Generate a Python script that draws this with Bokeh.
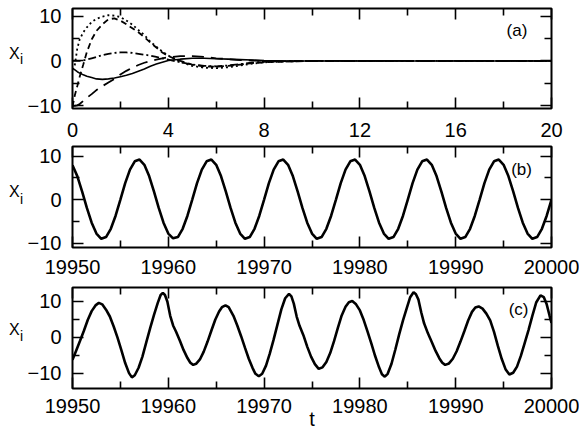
from bokeh.plotting import figure
from bokeh.models import LinearAxis, FixedTicker, Range1d, Label
from bokeh.layouts import column, row
from bokeh.embed import file_html
from bokeh.resources import INLINE

# ---------------- data ----------------
t_a = [0, 0.1, 0.2, 0.3, 0.45, 0.6, 0.8, 1.0, 1.25, 1.5,
       1.75, 2.0, 2.25, 2.5, 2.75, 3.0, 3.25, 3.5, 3.75, 4.0,
       4.5, 5.0, 5.5, 6.0, 6.5, 7.0, 7.5, 8.0, 9.0, 10,
       12, 14, 16, 18, 20]
x_dot = [-2.0, -0.8, 2.8, 4.8, 6.4, 7.5, 8.7, 9.4, 9.9, 10.2,
         10.1, 9.8, 9.0, 8.1, 6.9, 5.8, 4.3, 3.2, 2.1, 1.2,
         -0.2, -1.1, -1.5, -1.6, -1.4, -1.0, -0.6, -0.3, -0.1, 0,
         0, 0, 0, 0, 0]
x_sdash = [-10.2, -7.6, -5.6, -3.5, -0.8, 2.0, 4.8, 6.7, 8.2, 9.3,
           9.5, 9.0, 8.2, 7.3, 6.4, 5.3, 4.1, 3.0, 1.9, 1.1,
           0.0, -0.8, -1.2, -1.3, -1.1, -0.8, -0.5, -0.3, -0.1, 0,
           0, 0, 0, 0, 0]
x_dashdot = [0.0, 0.0, 0.0, 0.0, 0.1, 0.3, 0.6, 0.9, 1.3, 1.6,
             1.8, 1.9, 1.9, 1.8, 1.6, 1.4, 1.2, 0.9, 0.6, 0.3,
             -0.3, -0.8, -1.1, -1.2, -1.0, -0.7, -0.4, -0.2, 0.0, 0,
             0, 0, 0, 0, 0]
x_solid = [-1.6, -2.0, -2.4, -2.7, -3.1, -3.4, -3.7, -4.0, -4.1, -4.0,
           -3.8, -3.5, -3.2, -2.8, -2.3, -1.8, -1.2, -0.7, -0.3, 0.1,
           0.4, 0.6, 0.6, 0.5, 0.4, 0.3, 0.2, 0.1, 0.0, 0,
           0, 0, 0, 0, 0]
x_ldash = [-10.0, -10.0, -9.9, -9.6, -8.9, -8.2, -7.4, -6.5, -5.6, -4.8,
           -4.0, -3.0, -2.2, -1.5, -0.9, -0.4, 0.0, 0.3, 0.6, 0.8,
           1.1, 1.1, 0.9, 0.6, 0.4, 0.2, 0.1, 0.0, -0.1, 0,
           0, 0, 0, 0, 0]

t_b = [19950.0, 19950.5, 19951.0, 19951.5, 19952.0, 19952.5, 19953.0, 19953.5, 19954.0, 19954.5,
       19955.0, 19955.5, 19956.0, 19956.5, 19957.0, 19957.5, 19958.0, 19958.5, 19959.0, 19959.5,
       19960.0, 19960.5, 19961.0, 19961.5, 19962.0, 19962.5, 19963.0, 19963.5, 19964.0, 19964.5,
       19965.0, 19965.5, 19966.0, 19966.5, 19967.0, 19967.5, 19968.0, 19968.5, 19969.0, 19969.5,
       19970.0, 19970.5, 19971.0, 19971.5, 19972.0, 19972.5, 19973.0, 19973.5, 19974.0, 19974.5,
       19975.0, 19975.5, 19976.0, 19976.5, 19977.0, 19977.5, 19978.0, 19978.5, 19979.0, 19979.5,
       19980.0, 19980.5, 19981.0, 19981.5, 19982.0, 19982.5, 19983.0, 19983.5, 19984.0, 19984.5,
       19985.0, 19985.5, 19986.0, 19986.5, 19987.0, 19987.5, 19988.0, 19988.5, 19989.0, 19989.5,
       19990.0, 19990.5, 19991.0, 19991.5, 19992.0, 19992.5, 19993.0, 19993.5, 19994.0, 19994.5,
       19995.0, 19995.5, 19996.0, 19996.5, 19997.0, 19997.5, 19998.0, 19998.5, 19999.0, 19999.5,
       20000.0]
x_b = [7.9, 5.4, 1.9, -1.9, -5.3, -7.8, -9.0, -8.6, -6.7, -3.7, 0.0, 3.8, 6.9, 8.8, 9.2,
       8.0, 5.4, 1.9, -1.9, -5.3, -7.8, -8.9, -8.6, -6.7, -3.7, 0.0, 3.8, 6.9, 8.8, 9.2,
       8.0, 5.4, 1.9, -1.9, -5.3, -7.8, -9.0, -8.6, -6.7, -3.7, 0.0, 3.8, 6.9, 8.8, 9.2,
       8.0, 5.4, 1.9, -1.9, -5.3, -7.8, -9.0, -8.6, -6.7, -3.7, 0.0, 3.8, 6.9, 8.8, 9.2,
       8.0, 5.4, 1.9, -1.9, -5.3, -7.8, -9.0, -8.6, -6.7, -3.7, 0.0, 3.8, 6.9, 8.8, 9.2,
       8.0, 5.4, 1.9, -1.9, -5.3, -7.8, -9.0, -8.6, -6.7, -3.7, 0.0, 3.8, 6.9, 8.8, 9.2,
       8.0, 5.4, 1.9, -1.9, -5.3, -7.8, -9.0, -8.6, -6.7, -3.7, 0.0]

t_c = [19950.0, 19950.4, 19950.8, 19951.2, 19951.6, 19952.0, 19952.4, 19952.75, 19953.1, 19953.5,
       19953.9, 19954.3, 19954.7, 19955.1, 19955.5, 19955.9, 19956.2, 19956.5, 19956.9, 19957.3,
       19957.7, 19958.1, 19958.5, 19958.9, 19959.2, 19959.43, 19959.65, 19959.9, 19960.2, 19960.5,
       19960.8, 19961.2, 19961.6, 19962.0, 19962.3, 19962.6, 19962.9, 19963.3, 19963.7, 19964.1,
       19964.5, 19964.9, 19965.3, 19965.6, 19965.97, 19966.3, 19966.8, 19967.2, 19967.6, 19968.0,
       19968.4, 19968.8, 19969.1, 19969.45, 19969.8, 19970.2, 19970.6, 19971.0, 19971.4, 19971.8,
       19972.2, 19972.6, 19972.85, 19973.1, 19973.4, 19973.7, 19974.1, 19974.5, 19974.9, 19975.3,
       19975.7, 19976.1, 19976.5, 19976.9, 19977.3, 19977.7, 19978.1, 19978.5, 19978.85, 19979.2,
       19979.6, 19980.0, 19980.4, 19980.8, 19981.2, 19981.6, 19982.0, 19982.3, 19982.6, 19982.9,
       19983.3, 19983.7, 19984.1, 19984.5, 19984.9, 19985.25, 19985.6, 19985.85, 19986.1, 19986.4,
       19986.7, 19987.1, 19987.5, 19987.9, 19988.3, 19988.6, 19988.9, 19989.3, 19989.7, 19990.1,
       19990.5, 19990.9, 19991.3, 19991.7, 19992.05, 19992.4, 19992.8, 19993.2, 19993.6, 19994.0,
       19994.4, 19994.8, 19995.2, 19995.6, 19996.0, 19996.4, 19996.8, 19997.2, 19997.6, 19998.0,
       19998.4, 19998.85, 19999.2, 19999.5, 19999.8, 20000.0]
x_c = [-6.3, -3.6, -0.9, 1.9, 4.9, 7.3, 8.9, 9.6, 9.2, 7.7,
       5.8, 3.0, -0.1, -3.6, -7.2, -10.0, -11.2, -10.6, -8.5, -5.4,
       -1.4, 2.5, 6.2, 9.6, 11.8, 12.4, 11.8, 10.0, 6.0, 3.3,
       1.6, -0.9, -3.6, -5.8, -7.1, -7.7, -7.4, -6.2, -4.0, -1.2,
       1.9, 4.9, 7.2, 8.4, 8.9, 8.4, 6.0, 3.3, 0.3, -2.9,
       -6.0, -8.6, -10.2, -10.9, -10.2, -7.9, -4.5, -0.6, 3.6, 7.8,
       10.9, 12.1, 11.4, 9.4, 5.8, 3.2, 0.6, -2.6, -5.4, -7.5,
       -8.8, -8.4, -6.9, -4.4, -1.1, 2.6, 6.1, 8.5, 9.8, 10.1,
       9.2, 7.5, 4.8, 1.6, -1.8, -5.3, -8.4, -10.3, -11.0, -10.2,
       -7.4, -3.4, 0.8, 4.7, 8.2, 11.2, 12.6, 12.0, 10.6, 7.0,
       3.9, 1.1, -1.3, -3.8, -5.9, -7.1, -7.7, -7.3, -6.0, -3.9,
       -1.2, 1.7, 4.7, 7.1, 8.3, 8.6, 8.0, 6.6, 4.7, 1.5,
       -2.4, -6.0, -8.9, -10.4, -9.9, -8.2, -5.2, -1.6, 2.0, 6.0,
       9.7, 11.7, 11.2, 9.2, 6.0, 4.0]

xa_major = [0, 4, 8, 12, 16, 20]
xa_minor = [2, 6, 10, 14, 18]
xb_major = [19950, 19960, 19970, 19980, 19990, 20000]
xb_minor = [19955, 19965, 19975, 19985, 19995]
y_major = [-10, 0, 10]
y_minor = [-5, 5]

FONT = "Liberation Sans"
LW = 23                      # width of the strip holding the "X_i" label
W = 579 - LW
LEFT = 72 - LW
FRAME_W = 479
RIGHT = W - LEFT - FRAME_W


def make_axis(ticks, minor, labels, standoff=11):
    ax = LinearAxis(ticker=FixedTicker(ticks=ticks, minor_ticks=minor))
    ax.axis_line_color = None
    ax.major_tick_in = 11
    ax.major_tick_out = 0
    ax.minor_tick_in = 7
    ax.minor_tick_out = 0
    ax.major_tick_line_color = "black"
    ax.minor_tick_line_color = "black"
    ax.major_tick_line_width = 1.6
    ax.minor_tick_line_width = 1.6
    if labels:
        ax.major_label_text_font = FONT
        ax.major_label_text_font_size = "20px"
        ax.major_label_text_color = "black"
        ax.major_label_standoff = standoff
    else:
        ax.major_label_text_color = None
        ax.major_label_standoff = 0
    return ax


def panel(x_rng, y_rng, height, top, bottom, xt, xm, xstand):
    p = figure(width=W, height=height,
               x_range=Range1d(*x_rng), y_range=Range1d(*y_rng),
               output_backend="svg", toolbar_location=None, tools="",
               x_axis_location=None, y_axis_location=None,
               min_border_left=LEFT, min_border_right=RIGHT,
               min_border_top=top, min_border_bottom=bottom)
    for g in p.grid:
        g.visible = False
    p.outline_line_color = "black"
    p.outline_line_width = 2
    p.outline_line_alpha = 1.0
    bx = make_axis(xt, xm, True, xstand)
    p.add_layout(bx, "below")
    p.add_layout(make_axis(xt, xm, False), "above")
    p.add_layout(make_axis(y_major, y_minor, True, 11), "left")
    p.add_layout(make_axis(y_major, y_minor, False), "right")
    return p, bx


def label_strip(height, x_base, i_base):
    # a thin figure whose frame is the whole strip; units are pixels, y from the bottom
    s = figure(width=LW, height=height, x_range=Range1d(0, LW), y_range=Range1d(0, height),
               output_backend="svg", toolbar_location=None, tools="",
               x_axis_location=None, y_axis_location=None,
               min_border_left=0, min_border_right=0, min_border_top=0, min_border_bottom=0)
    for g in s.grid:
        g.visible = False
    s.outline_line_color = None
    s.background_fill_color = "white"
    s.border_fill_color = "white"
    s.add_layout(Label(x=8.5, y=height - x_base, text="X", text_font=FONT, text_font_size="16px",
                       text_color="black", text_baseline="alphabetic", text_align="left"))
    s.add_layout(Label(x=19.5, y=height - i_base, text="i", text_font=FONT, text_font_size="14px",
                       text_color="black", text_baseline="alphabetic", text_align="left"))
    return s


def add_tag(p, x, y, s):
    p.add_layout(Label(x=x, y=y, text=s, text_font=FONT, text_font_size="17px",
                       text_color="black", text_baseline="middle", text_align="center"))


# (a)  frame 8..108
HA = 142
pa, _ = panel((0, 20), (-10.6, 11.7), HA, 8, 34, xa_major, xa_minor, 14)
pa.line(t_a, x_solid, line_color="black", line_width=1.6)
pa.line(t_a, x_dot, line_color="black", line_width=1.8, line_dash="2 3")
pa.line(t_a, x_sdash, line_color="black", line_width=1.8, line_dash="6 4")
pa.line(t_a, x_dashdot, line_color="black", line_width=1.8, line_dash="8 3 2 3")
pa.line(t_a, x_ldash, line_color="black", line_width=1.8, line_dash="12 7")
add_tag(pa, 18.56, 6.7, "(a)")
sa = label_strip(HA, 63.3, 72.0)

# (b)  frame 146..247
HB = 139
pb, _ = panel((19950, 20000), (-11.0, 12.2), HB, 4, 34, xb_major, xb_minor, 12)
pb.line(t_b, x_b, line_color="black", line_width=2.6)
add_tag(pb, 19996.87, 7.0, "(b)")
sb = label_strip(HB, 61.3, 72.0)

# (c)  frame 287..389
HC = 151
pc, bxc = panel((19950, 20000), (-14.3, 13.9), HC, 6, 43, xb_major, xb_minor, 10)
pc.line(t_c, x_c, line_color="black", line_width=2.6)
add_tag(pc, 19996.56, 7.7, "(c)")
bxc.axis_label = "t"
bxc.axis_label_text_font = FONT
bxc.axis_label_text_font_style = "normal"
bxc.axis_label_text_font_size = "20px"
bxc.axis_label_text_color = "black"
bxc.axis_label_standoff = -8
sc = label_strip(HC, 62.3, 73.0)

layout = column(row(sa, pa), row(sb, pb), row(sc, pc))
open("out.html", "w").write(file_html(layout, INLINE))
